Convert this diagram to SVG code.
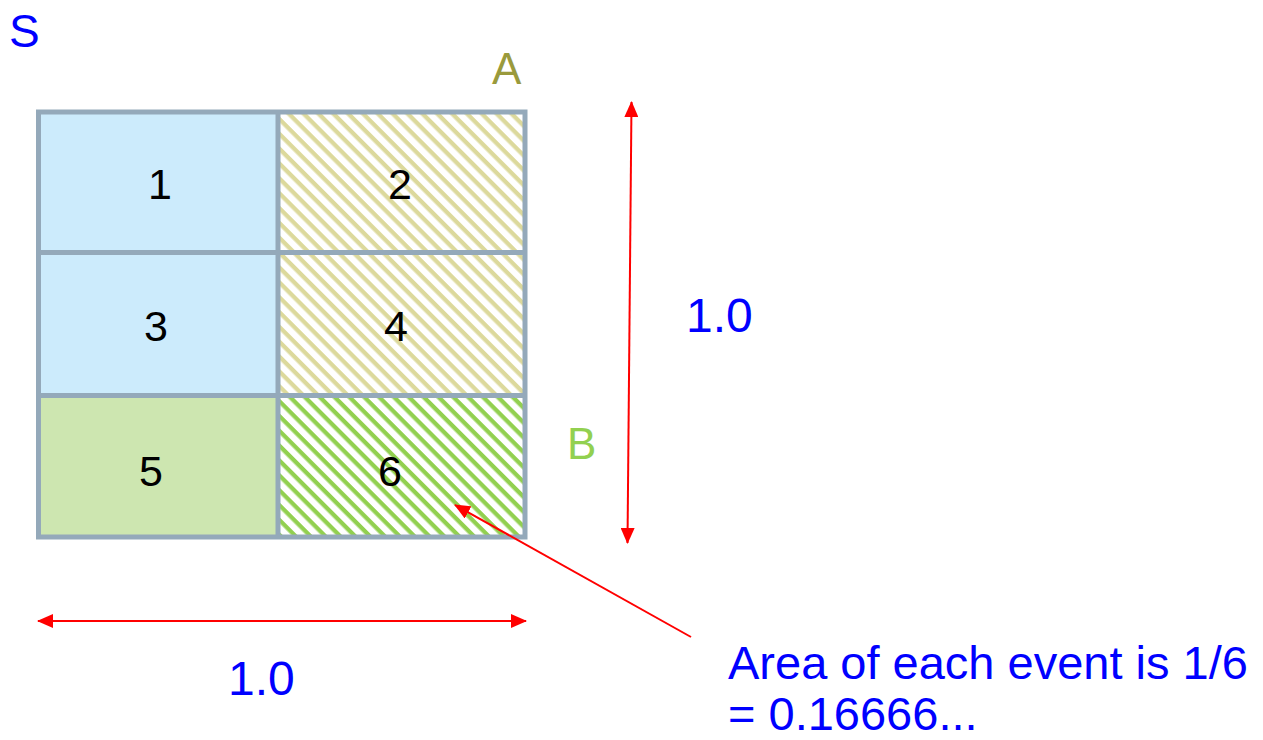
<svg xmlns="http://www.w3.org/2000/svg" width="1263" height="740" viewBox="0 0 1263 740">
<style>
text{font-family:"Liberation Sans",Arial,sans-serif}
.blue{fill:#0000FF}
.num{font-size:43px;fill:#000;text-anchor:middle}
.grid{stroke:#94A9BA;stroke-width:5;fill:none}
.red{stroke:#FF0000;stroke-width:2;fill:none}
</style>
<defs>
<pattern id="hatchA" width="10.5" height="10.5" patternUnits="userSpaceOnUse" patternTransform="rotate(45)">
<rect width="10.5" height="10.5" fill="#FFFFFF"/>
<rect width="10.5" height="4.3" fill="#DCD99C"/>
</pattern>
<pattern id="hatchB" width="10.5" height="10.5" patternUnits="userSpaceOnUse" patternTransform="rotate(45)">
<rect width="10.5" height="10.5" fill="#FFFFFF"/>
<rect width="10.5" height="4.3" fill="#92D050"/>
</pattern>
<marker id="ah" viewBox="0 0 16 14" refX="15" refY="7" markerWidth="16" markerHeight="14" markerUnits="userSpaceOnUse" orient="auto-start-reverse">
<path d="M0,0 L16,7 L0,14 Z" fill="#FF0000"/>
</marker>
</defs>
<g id="S"><text x="9" y="47" font-size="46" class="blue">S</text></g>
<g id="cells">
<g id="cell1"><rect x="38.5" y="112" width="239.5" height="140.5" fill="#CCEBFC"/><text x="160" y="199" class="num">1</text></g>
<g id="cell2"><rect x="278" y="112" width="247" height="140.5" fill="url(#hatchA)"/><text x="400" y="199" class="num">2</text></g>
<g id="cell3"><rect x="38.5" y="252.5" width="239.5" height="143" fill="#CCEBFC"/><text x="156" y="341" class="num">3</text></g>
<g id="cell4"><rect x="278" y="252.5" width="247" height="143" fill="url(#hatchA)"/><text x="396" y="341" class="num">4</text></g>
<g id="cell5"><rect x="38.5" y="395.5" width="239.5" height="141.5" fill="#CDE6B0"/><text x="151" y="486" class="num">5</text></g>
<g id="cell6"><rect x="278" y="395.5" width="247" height="141.5" fill="url(#hatchB)"/><text x="390" y="486" class="num">6</text></g>
<g id="gridlines">
<rect x="38.5" y="112" width="486.5" height="425" class="grid"/>
<line x1="278" y1="112" x2="278" y2="537" class="grid"/>
<line x1="38.5" y1="252.5" x2="525" y2="252.5" class="grid"/>
<line x1="38.5" y1="395.5" x2="525" y2="395.5" class="grid"/>
</g>
</g>
<g id="A"><text x="492" y="84" font-size="44" fill="#9A9A3C">A</text></g>
<g id="B"><text x="567" y="459" font-size="44" fill="#92D050">B</text></g>
<g id="connectors">
<line x1="631.5" y1="102" x2="627.5" y2="543" class="red" marker-start="url(#ah)" marker-end="url(#ah)"/>
<line x1="38" y1="621" x2="526" y2="621" class="red" marker-start="url(#ah)" marker-end="url(#ah)"/>
<line x1="691" y1="637" x2="455" y2="505" class="red" marker-end="url(#ah)"/>
</g>
<g id="labels">
<text x="728" y="679" font-size="47" class="blue">Area of each event is 1/6</text>
<text x="728" y="730" font-size="47" class="blue">= 0.16666...</text>
<text x="686" y="332" font-size="48" class="blue">1.0</text>
<text x="228" y="695" font-size="48" class="blue">1.0</text>
</g>
</svg>
